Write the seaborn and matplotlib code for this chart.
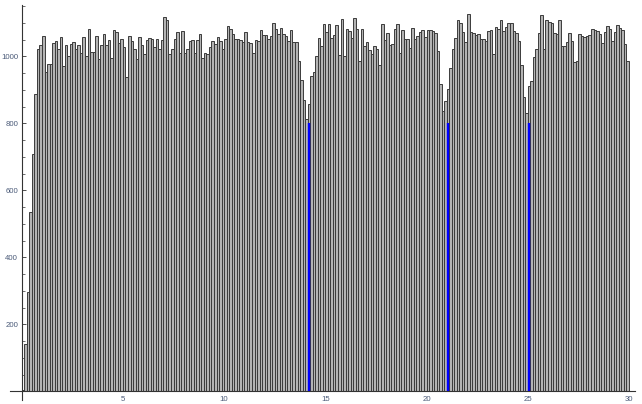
import numpy as np
import pandas as pd
import matplotlib
matplotlib.use("Agg")
import matplotlib.pyplot as plt
from matplotlib.ticker import MultipleLocator, FixedLocator
import seaborn as sns

# ---- data (bar heights, bin width 0.125 from 0 to 30) ----
bin_width = 0.125
counts_0_5 = [5, 143, 296, 535, 710, 888,
              1023, 1035, 1061, 953, 977, 977, 1040, 1046, 1021, 1058, 973, 1035,
              1000, 1038, 1044, 1023, 1033, 1010, 1058, 1001, 1083, 1013, 1014, 1060,
              991, 1033, 1068, 1033, 1050, 996, 1080, 1072, 1040, 1053]
counts_5_10 = [1028, 939, 1061, 1046, 1021, 991, 1058, 1033, 1006, 1048,
               1056, 1053, 1028, 1053, 1023, 1048, 1119, 1109, 1006, 1021,
               1053, 1072, 1011, 1075, 1011, 1021, 1046, 1050, 1010, 1048,
               1066, 996, 1010, 1008, 1028, 1046, 1038, 1058, 1046, 1021]
counts_10_15 = [1051, 1091, 1083, 1066, 1051, 1051, 1049, 1043, 1073, 1043,
                1041, 1009, 1049, 1046, 1079, 1063, 1063, 1051, 1061, 1101,
                1083, 1066, 1084, 1068, 1061, 1046, 1079, 1043, 1043, 986,
                931, 871, 813, 859, 941, 953, 1001, 1056, 1031, 1096]
counts_15_20 = [1073, 1096, 1056, 1063, 1093, 1003, 1111, 1001, 1083, 1076,
                1056, 1116, 1083, 986, 1083, 1031, 1043, 1019, 1006, 1031,
                1023, 976, 1096, 1049, 1071, 1033, 1036, 1081, 1098, 1011,
                1079, 1051, 1053, 1026, 1086, 1051, 1061, 1073, 1079, 1059]
counts_20_25 = [1079, 1079, 1076, 1071, 1016, 919, 836, 866, 903, 966,
                1023, 1056, 1109, 1101, 1073, 1043, 1126, 1074, 1071, 1063,
                1066, 1051, 1051, 1046, 1076, 1079, 1006, 1089, 1081, 1109,
                1076, 1089, 1099, 1101, 1076, 1071, 1046, 975, 879, 831]
counts_25_30 = [913, 928, 999, 1023, 1071, 1123, 1023, 1109, 1103, 1099,
                1069, 1068, 1109, 1031, 1031, 1043, 1069, 1046, 983, 986,
                1068, 1061, 1059, 1061, 1063, 1083, 1079, 1076, 1066, 1039,
                1073, 1091, 1083, 1046, 1073, 1093, 1086, 1079, 1038, 986]

marker_x = [14.18, 21.05, 25.04]
marker_h = [800, 800, 800]

x_major = [5, 10, 15, 20, 25, 30]
y_major = [200, 400, 600, 800, 1000]

counts = np.array(counts_0_5 + counts_5_10 + counts_10_15 +
                  counts_15_20 + counts_20_25 + counts_25_30, dtype=float)
edges = (np.arange(len(counts) + 1) * bin_width).tolist()
centers = [(a + b) / 2 for a, b in zip(edges[:-1], edges[1:])]
df = pd.DataFrame({"x": centers, "w": counts})

# ---- figure ----
sns.set_style("white")
plt.rcParams['font.family'] = ['Liberation Sans', 'DejaVu Sans']

fig = plt.figure(figsize=(6.42, 4.04), dpi=100)
ax = fig.add_axes([0.0156, 0.0087, 0.9735, 0.98])

sns.histplot(data=df, x="x", weights="w", bins=edges, ax=ax,
             color="#b4b4b4", edgecolor="#3c3c3c", linewidth=0.7,
             alpha=1.0, fill=True)

ax.vlines(marker_x, 0, marker_h, color="#0000ff", linewidth=1.7, zorder=5)

ax.set_xlim(-0.58, 30.3)
ax.set_ylim(-27, 1155)
ax.set_xlabel("")
ax.set_ylabel("")

for s in ["top", "right"]:
    ax.spines[s].set_visible(False)
for s in ["left", "bottom"]:
    ax.spines[s].set_position("zero")
    ax.spines[s].set_color("#333333")
    ax.spines[s].set_linewidth(0.8)
    ax.spines[s].set_zorder(6)

ax.xaxis.set_major_locator(FixedLocator(x_major))
ax.xaxis.set_minor_locator(MultipleLocator(1))
ax.yaxis.set_major_locator(FixedLocator(y_major))
ax.yaxis.set_minor_locator(MultipleLocator(50))

ax.tick_params(axis="both", which="major", direction="in", length=3.2,
               width=0.6, color="#333333", labelsize=5.6, labelcolor="#4a5a78")
ax.tick_params(axis="both", which="minor", direction="in", length=1.8,
               width=0.5, color="#333333")
ax.tick_params(axis="y", which="both", left=True, pad=2.6)
ax.tick_params(axis="x", which="both", bottom=True, pad=3.0)

fig.savefig("out.png", dpi=100)
